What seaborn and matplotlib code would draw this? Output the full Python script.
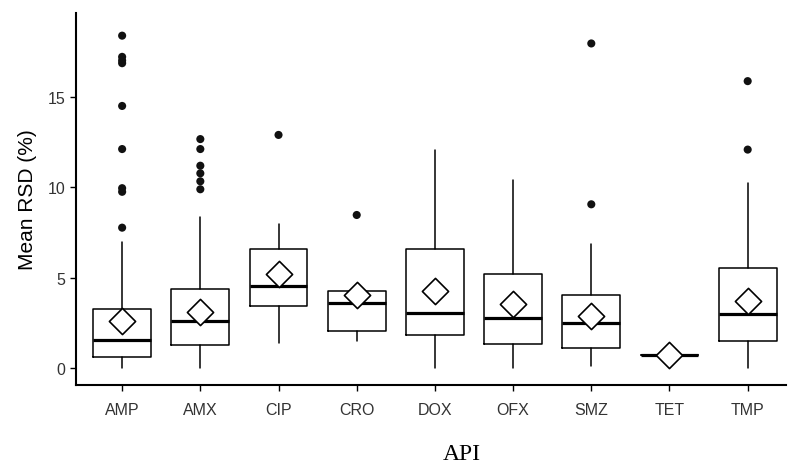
import numpy as np
import pandas as pd
import matplotlib.pyplot as plt
import seaborn as sns

# Summary statistics
apis = ["AMP", "AMX", "CIP", "CRO", "DOX", "OFX", "SMZ", "TET", "TMP"]
whisker_low = [0.0, 0.0, 1.39, 1.54, 0.0, 0.0, 0.16, 0.74, 0.0]
q1 = [0.62, 1.30, 3.47, 2.07, 1.83, 1.35, 1.13, 0.74, 1.54]
median = [1.59, 2.64, 4.53, 3.63, 3.06, 2.81, 2.53, 0.74, 3.00]
q3 = [3.28, 4.40, 6.61, 4.26, 6.61, 5.22, 4.04, 0.74, 5.54]
whisker_high = [6.96, 8.34, 7.97, 4.26, 12.08, 10.40, 6.87, 0.74, 10.25]
means = [2.64, 3.14, 5.22, 4.04, 4.26, 3.56, 2.92, 0.74, 3.71]

outlier_api = ["AMP"] * 9 + ["AMX"] * 6 + ["CIP", "CRO", "SMZ", "SMZ", "TMP", "TMP"]
outlier_val = [18.37, 17.2, 17.0, 16.85, 14.49, 12.11, 9.95, 9.75, 7.77,
               12.66, 12.11, 11.19, 10.77, 10.33, 9.89,
               12.89, 8.47, 17.94, 9.06, 15.86, 12.08]

pos = np.arange(len(apis))
stats = [
    dict(label=a, whislo=lo, q1=b, med=m, q3=c, whishi=hi, fliers=[])
    for a, lo, b, m, c, hi in zip(apis, whisker_low, q1, median, q3, whisker_high)
]

sns.set_theme(style="ticks")
plt.rcParams["font.family"] = ["Liberation Sans", "DejaVu Sans"]

fig = plt.figure(figsize=(8, 4.77), dpi=100)
ax = fig.add_axes([0.095, 0.191, 0.8875, 0.7796])

ax.bxp(stats, positions=pos, widths=0.74, showcaps=False, showfliers=False,
       boxprops=dict(color="black", linewidth=1.1),
       whiskerprops=dict(color="black", linewidth=1.1),
       medianprops=dict(color="black", linewidth=2.3))

out_df = pd.DataFrame({"x": [apis.index(a) for a in outlier_api], "y": outlier_val})
sns.scatterplot(data=out_df, x="x", y="y", ax=ax, color="#111111", s=34,
                edgecolor="none", zorder=3)

mean_df = pd.DataFrame({"x": pos, "y": means})
sns.scatterplot(data=mean_df, x="x", y="y", ax=ax, marker="D", s=178,
                facecolor="white", edgecolor="black", linewidth=1.2, zorder=4)

ax.set_xlim(-0.59, 8.49)
ax.set_ylim(-0.91, 19.62)
ax.set_xticks(pos)
ax.set_xticklabels(apis)
ax.set_yticks([0, 5, 10, 15])
ax.tick_params(axis="both", labelsize=11.5, labelcolor="#333333", color="black",
               length=4, width=1.0, direction="out")
ax.tick_params(axis="x", pad=8)

sns.despine(ax=ax)
for side in ["left", "bottom"]:
    ax.spines[side].set_color("black")
    ax.spines[side].set_linewidth(1.5)

ax.set_ylabel("Mean RSD (%)", fontsize=15, color="black", labelpad=8)
ax.set_xlabel("API", fontsize=17, family=["Liberation Serif", "DejaVu Serif"],
              color="black", labelpad=19)
ax.xaxis.label.set_x(0.544)

fig.savefig("out.png", dpi=100, facecolor="white")
